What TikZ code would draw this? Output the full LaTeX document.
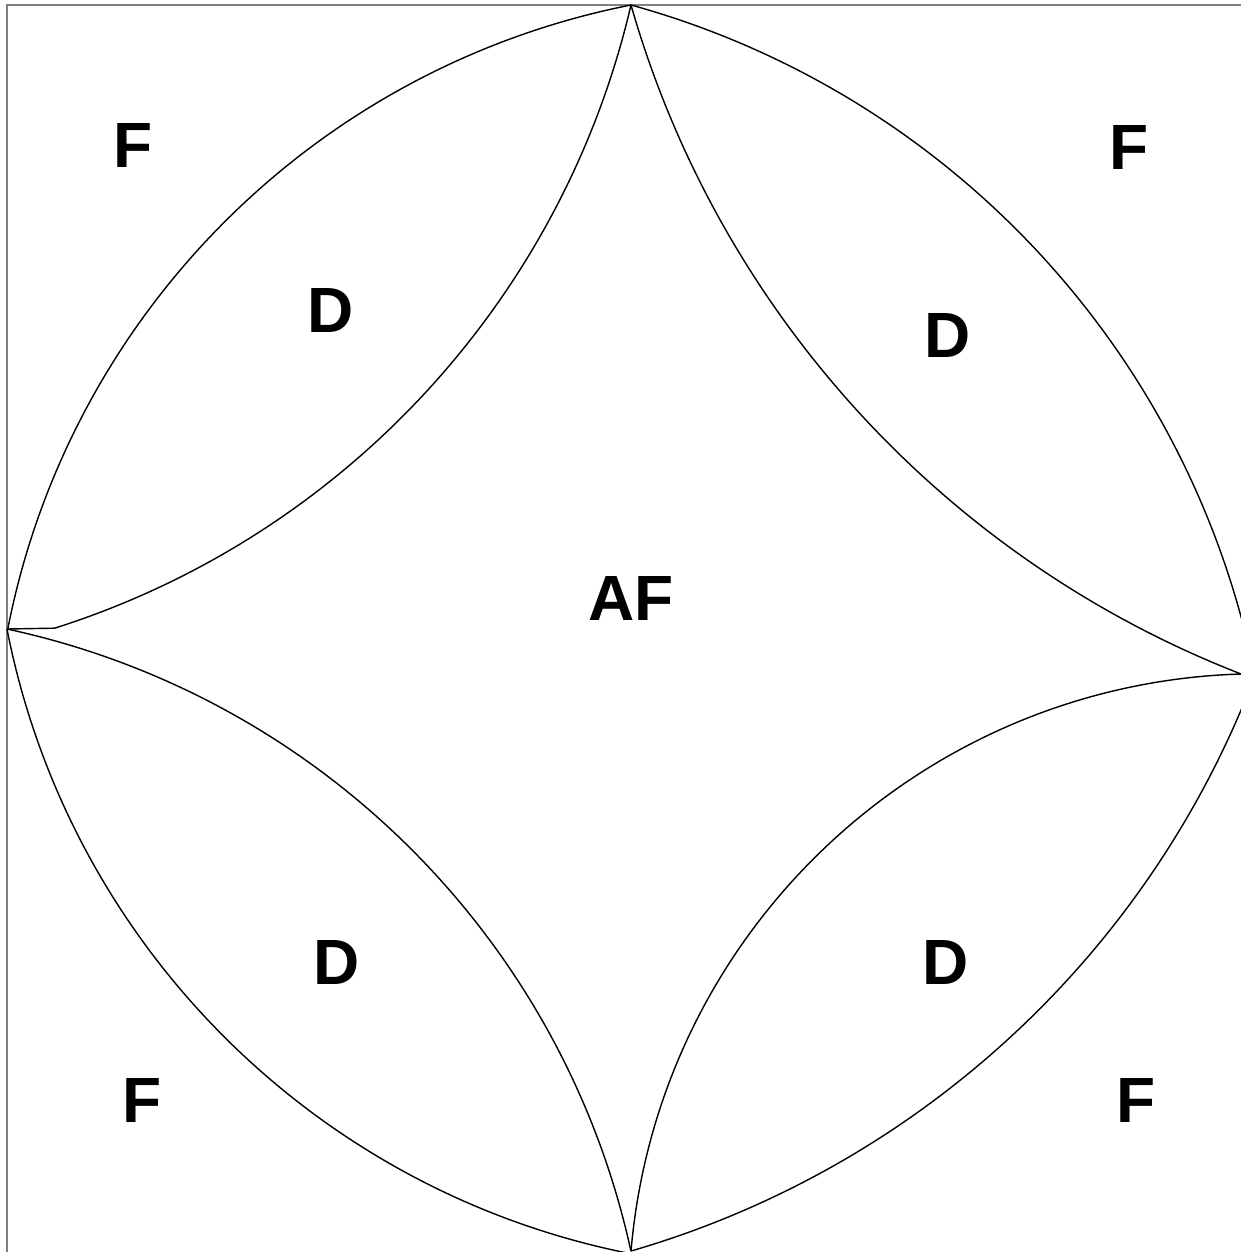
\documentclass[tikz,border=0pt]{standalone}
\usepackage{fontspec}
\setmainfont{Liberation Sans}
\usetikzlibrary{positioning}
\tikzset{
  frameln/.style={line width=0.6pt, gray},
  bdryln/.style={line width=0.4pt, black},
  phase/.style={font=\fontsize{18.2}{20}\selectfont\bfseries, inner sep=0pt},
}

\begin{document}
\begin{tikzpicture}
  \useasboundingbox (0,0) rectangle (12.41,-12.52);
  \clip (0,0) rectangle (12.41,-12.52);
  % frame
  \draw[frameln] (0.07,-12.6) -- (0.07,-0.05) -- (12.5,-0.05);
  % cusps of the diagram
  \coordinate (top) at (6.31,-0.05);
  \coordinate (lft) at (0.07,-6.29);
  \coordinate (rgt) at (12.41,-6.74);
  \coordinate (bot) at (6.31,-12.51);
  % outer boundary
  \draw[bdryln] (top) arc[start angle=101.15, end angle=168.93, radius=7.909];
  \draw[bdryln] (lft) arc[start angle=191.07, end angle=258.82, radius=7.917];
  \draw[bdryln] (top) arc[start angle=74.58, end angle=12, radius=8.728];
  \draw[bdryln] (bot) arc[start angle=-73.83, end angle=-15, radius=9.505];
  % inner star
  \draw[bdryln] (top) arc[start angle=-13.13, end angle=-72.39, radius=8.584] -- (lft);
  \draw[bdryln] (top) arc[start angle=195.96, end angle=248.76, radius=10.181];
  \draw[bdryln] (lft) arc[start angle=77.86, end angle=12.32, radius=8.138];
  \draw[bdryln] (rgt) arc[start angle=91.74, end angle=175.08, radius=6.315];
  % phase labels
  \node[phase] (fTL) at (1.33,-1.45) {F};
  \node[phase] (fTR) at (11.29,-1.47) {F};
  \node[phase] (dTL) at (3.31,-3.10) {D};
  \node[phase] (dTR) at (9.48,-3.35) {D};
  \node[phase] (af) at (6.31,-5.98) {AF};
  \node[phase] (dBL) at (3.37,-9.62) {D};
  \node[phase] (dBR) at (9.46,-9.62) {D};
  \node[phase] (fBL) at (1.42,-11.00) {F};
  \node[phase] (fBR) at (11.36,-11.00) {F};
\end{tikzpicture}
\end{document}
